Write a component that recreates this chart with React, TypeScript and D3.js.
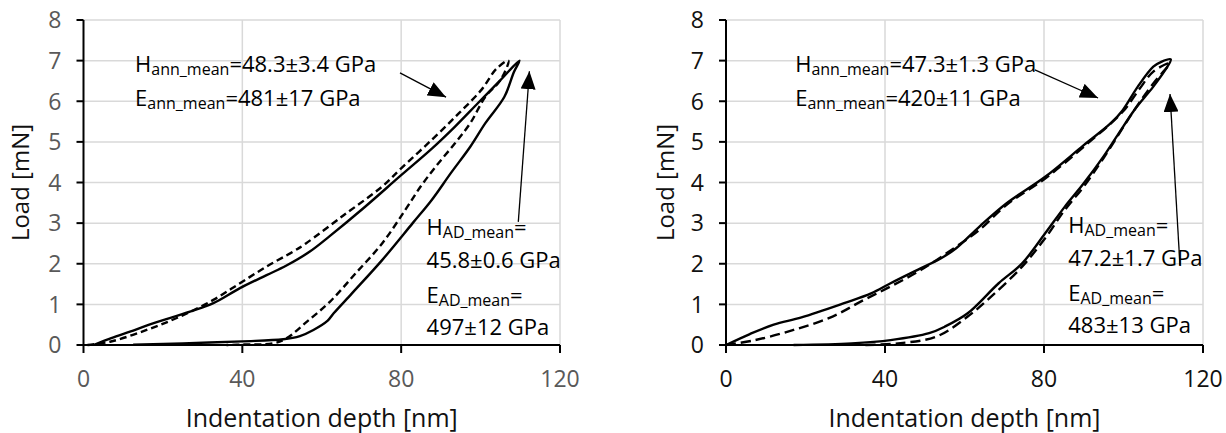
import React from 'react';
import * as d3 from 'd3';

type Pt = [number, number];

// axis ticks
const depthTicks = [0, 40, 80, 120];
const loadTicks = [0, 1, 2, 3, 4, 5, 6, 7, 8];

// left panel curves (depth nm, load mN)
const leftSolidLoad: Pt[] = [[2.5, 0], [7, 0.17], [11.7, 0.33], [17.5, 0.53], [26.8, 0.82], [32.7, 1.03], [39.4, 1.4], [46.1, 1.72], [51, 1.95], [57, 2.3], [62, 2.68], [70.4, 3.36], [80, 4.18], [87.8, 4.84], [93.5, 5.37], [99.3, 5.95], [105, 6.52], [109.8, 7.0]];
const leftSolidUnload: Pt[] = [[108.4, 6.72], [106, 6.11], [101.2, 5.46], [97.4, 4.88], [92.5, 4.23], [87.7, 3.57], [82.9, 3.0], [75.2, 2.09], [67.6, 1.27], [63, 0.78], [61.5, 0.6], [57.9, 0.37], [54.5, 0.22], [50.3, 0.14], [40, 0.09], [25, 0.04], [12.5, 0.01]];
const leftDashLoad: Pt[] = [[1, 0], [6.7, 0.08], [15.9, 0.37], [24.3, 0.7], [32.7, 1.11], [39.4, 1.52], [46.1, 1.93], [52.8, 2.3], [56, 2.5], [65.6, 3.2], [75.2, 3.9], [80, 4.35], [87.7, 5.05], [94.5, 5.7], [100.2, 6.28], [104, 6.8], [107, 7.0]];
const leftDashUnload: Pt[] = [[105, 6.52], [101.2, 6.11], [97.4, 5.46], [93.5, 4.96], [88.7, 4.39], [84.9, 3.9], [81, 3.32], [75.2, 2.5], [68.5, 1.76], [62.1, 1.07], [56.2, 0.57], [51.2, 0.17], [47.8, 0.04], [40, 0.01], [36, 0]];

// right panel curves
const rightSolidLoad: Pt[] = [[0, 0], [6, 0.27], [12, 0.5], [19, 0.68], [29.7, 1.03], [36.5, 1.27], [41.4, 1.52], [48.2, 1.85], [54, 2.13], [57.9, 2.38], [63.7, 2.91], [70.6, 3.49], [80.3, 4.14], [90, 4.92], [96.8, 5.46], [99.8, 5.78], [103.6, 6.36], [107.5, 6.85], [109.5, 6.97], [111.9, 7.03]];
const rightSolidUnload: Pt[] = [[110.5, 6.77], [107.5, 6.36], [102.7, 5.78], [98.8, 5.21], [94.9, 4.63], [90, 3.98], [85.2, 3.4], [80.3, 2.75], [74.5, 2.01], [68.6, 1.52], [60.8, 0.78], [55, 0.45], [51.1, 0.29], [41.4, 0.12], [31.6, 0.04], [17, 0]];
const rightDashLoad: Pt[] = [[0, 0], [7.3, 0.12], [17, 0.37], [26.8, 0.7], [34.5, 1.1], [41.4, 1.44], [49.1, 1.85], [57.9, 2.42], [63.7, 2.83], [70.6, 3.45], [80.3, 4.1], [90, 4.88], [99.8, 5.74], [104, 6.3], [107.5, 6.73], [111.5, 6.93]];
const rightDashUnload: Pt[] = [[107.5, 6.44], [102.7, 5.78], [94.9, 4.59], [90, 3.9], [85.2, 3.32], [80.3, 2.63], [74.5, 1.93], [66.7, 1.19], [60.8, 0.7], [53, 0.21], [43.3, 0.04], [34.5, 0]];

// annotation values
const annH = ['48.3±3.4 GPa', '47.3±1.3 GPa'];
const annE = ['481±17 GPa', '420±11 GPa'];
const adH = ['45.8±0.6 GPa', '47.2±1.7 GPa'];
const adE = ['497±12 GPa', '483±13 GPa'];

const FONT = '"Open Sans", sans-serif';

const panels = [
  {
    x0: 83.5, x1: 560, tickColor: '#595959', titleX: 29,
    solid: [...leftSolidLoad, ...leftSolidUnload],
    dashed: [...leftDashLoad, ...leftDashUnload],
    annAt: [13, 6.72, 5.88], adAt: [86.4, 2.71, 1.89, 1.04, 0.25],
    annArrow: [79.7, 6.7, 91.3, 6.1], adArrow: [109.5, 3.03, 112.3, 6.74],
  },
  {
    x0: 726, x1: 1203, tickColor: '#111', titleX: 674,
    solid: [...rightSolidLoad, ...rightSolidUnload],
    dashed: [...rightDashLoad, ...rightDashUnload],
    annAt: [17.4, 6.72, 5.88], adAt: [86.1, 2.75, 1.95, 1.09, 0.3],
    annArrow: [77.7, 6.77, 93.6, 6.08], adArrow: [114.2, 1.97, 111.7, 6.18],
  },
];

const Sub = ({ x, y, main, sub, rest }: any) => (
  <text x={x} y={y} fontSize={22} fill="#000">
    <tspan>{main}</tspan>
    <tspan fontSize={16} dy={3}>{sub}</tspan>
    <tspan fontSize={22} dy={-3}>{rest}</tspan>
  </text>
);

const Panel = ({ p, i }: any) => {
  const x = d3.scaleLinear().domain([0, 120]).range([p.x0, p.x1]);
  const y = d3.scaleLinear().domain([0, 8]).range([345, 20]);
  const line = d3.line<Pt>().x((d) => x(d[0])).y((d) => y(d[1])).curve(d3.curveCatmullRom.alpha(0.5));
  const [ax, ay1, ay2] = p.annAt;
  const [bx, b1, b2, b3, b4] = p.adAt;
  return (
    <g fontFamily={FONT}>
      {/* grid */}
      {loadTicks.slice(1).map((t) => (
        <line key={'h' + t} x1={x(0)} x2={x(120)} y1={y(t)} y2={y(t)} stroke="#d9d9d9" strokeWidth={1.5} />
      ))}
      {depthTicks.slice(1).map((t) => (
        <line key={'v' + t} x1={x(t)} x2={x(t)} y1={y(0)} y2={y(8)} stroke="#d9d9d9" strokeWidth={1.5} />
      ))}

      {/* axes */}
      <line x1={x(0)} x2={x(0)} y1={y(0)} y2={y(8)} stroke="#000" strokeWidth={2} />
      <line x1={x(0)} x2={x(120)} y1={y(0)} y2={y(0)} stroke="#000" strokeWidth={2} />
      {loadTicks.map((t) => (
        <g key={'yt' + t}>
          <line x1={x(0) - 7} x2={x(0)} y1={y(t)} y2={y(t)} stroke="#000" strokeWidth={2} />
          <text x={x(0) - 22} y={y(t)} dy="0.36em" textAnchor="end" fontSize={23} fill={p.tickColor}>{t}</text>
        </g>
      ))}
      {depthTicks.map((t) => (
        <g key={'xt' + t}>
          <line x1={x(t)} x2={x(t)} y1={y(0)} y2={y(0) + 8} stroke="#000" strokeWidth={2} />
          <text x={x(t)} y={387} textAnchor="middle" fontSize={23} fill={p.tickColor}>{t}</text>
        </g>
      ))}
      <text x={(x(0) + x(120)) / 2} y={427} textAnchor="middle" fontSize={25} fill="#111">Indentation depth [nm]</text>
      <text transform={`translate(${p.titleX},${(y(0) + y(8)) / 2}) rotate(-90)`} textAnchor="middle" fontSize={24} fill="#111">Load [mN]</text>

      {/* curves */}
      <path d={line(p.dashed) || ''} fill="none" stroke="#000" strokeWidth={2.4} strokeDasharray={i === 0 ? '7 4' : '10 5'} />
      <path d={line(p.solid) || ''} fill="none" stroke="#000" strokeWidth={2.4} />

      {/* annotations */}
      <Sub x={x(ax)} y={y(ay1)} main="H" sub="ann_mean" rest={'=' + annH[i]} />
      <Sub x={x(ax)} y={y(ay2)} main="E" sub="ann_mean" rest={'=' + annE[i]} />
      <Sub x={x(bx)} y={y(b1)} main="H" sub="AD_mean" rest="=" />
      <text x={x(bx)} y={y(b2)} fontSize={22} fill="#000">{adH[i]}</text>
      <Sub x={x(bx)} y={y(b3)} main="E" sub="AD_mean" rest="=" />
      <text x={x(bx)} y={y(b4)} fontSize={22} fill="#000">{adE[i]}</text>

      <line x1={x(p.annArrow[0])} y1={y(p.annArrow[1])} x2={x(p.annArrow[2])} y2={y(p.annArrow[3])}
        stroke="#000" strokeWidth={1.3} markerEnd="url(#tri)" />
      <line x1={x(p.adArrow[0])} y1={y(p.adArrow[1])} x2={x(p.adArrow[2])} y2={y(p.adArrow[3])}
        stroke="#000" strokeWidth={1.3} markerEnd="url(#tri)" />
    </g>
  );
};

export default function App() {
  return (
    <svg width={1226} height={433} style={{ position: 'absolute', left: 0, top: 0, background: '#fff' }}>
      <defs>
        <marker id="tri" markerUnits="userSpaceOnUse" markerWidth={19} markerHeight={15}
          refX={18} refY={7.5} orient="auto">
          <path d="M0,0 L18,7.5 L0,15 Z" fill="#000" />
        </marker>
      </defs>
      <rect width={1226} height={433} fill="#fff" />
      {panels.map((p, i) => <Panel key={i} p={p} i={i} />)}
    </svg>
  );
}
